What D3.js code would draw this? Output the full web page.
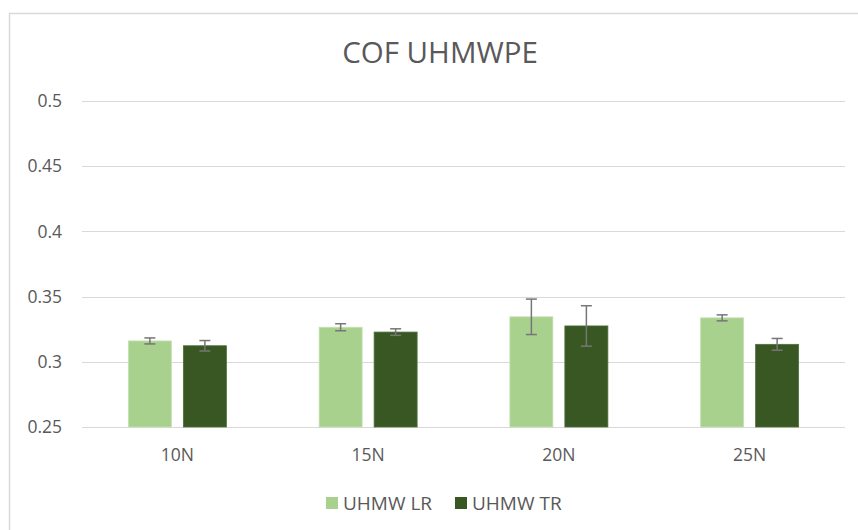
<!DOCTYPE html>
<html>
<head>
<meta charset="utf-8">
<script src="https://cdn.jsdelivr.net/npm/d3@7"></script>
<style>
  html, body { margin: 0; padding: 0; background: #fff; }
  svg text { font-family: "Open Sans", "Noto Sans", sans-serif; fill: #595959; }
</style>
</head>
<body>
<div id="chart"></div>
<script>
// --- dados ---
const categories = ["10N", "15N", "20N", "25N"];
const seriesNames = ["UHMW LR", "UHMW TR"];
const seriesColors = ["#a9d18e", "#385723"];
const lrValues = [0.316, 0.3265, 0.3345, 0.3337];
const trValues = [0.3123, 0.3228, 0.3275, 0.3134];
const lrErrors = [0.0023, 0.0027, 0.0136, 0.0023];
const trErrors = [0.004, 0.0025, 0.0155, 0.0045];
const yTicks = [0.25, 0.3, 0.35, 0.4, 0.45, 0.5];
const yTickLabels = ["0.25", "0.3", "0.35", "0.4", "0.45", "0.5"];

const width = 858, height = 530;
const plot = { left: 82, right: 845, top: 101, bottom: 427 };

const svg = d3.select("#chart").append("svg")
    .attr("width", width)
    .attr("height", height);

// borda do gráfico (cortada à direita e em baixo)
svg.append("path")
    .attr("d", `M9.5,${height}V13.5H${width}`)
    .attr("fill", "none")
    .attr("stroke", "#d9d9d9")
    .attr("stroke-width", 1.5);

const x = d3.scaleBand().domain(categories).range([plot.left, plot.right]);
const y = d3.scaleLinear().domain([0.25, 0.5]).range([plot.bottom, plot.top]);

const barW = 43, barGap = 12;
const groupW = barW * 2 + barGap;
// posição de cada série dentro do grupo
const xs = d3.scaleOrdinal().domain(seriesNames).range([0, barW + barGap]);

// grelha
svg.append("g")
    .selectAll("line")
    .data(yTicks)
    .join("line")
    .attr("x1", plot.left).attr("x2", plot.right)
    .attr("y1", d => Math.round(y(d)) + 0.5).attr("y2", d => Math.round(y(d)) + 0.5)
    .attr("stroke", "#d9d9d9").attr("stroke-width", 1);

// rótulos do eixo Y
svg.append("g")
    .selectAll("text")
    .data(yTicks)
    .join("text")
    .attr("x", 62)
    .attr("y", d => y(d))
    .attr("dy", "0.35em")
    .attr("text-anchor", "end")
    .style("font-size", "17.5px")
    .text((d, i) => yTickLabels[i]);

// rótulos do eixo X
svg.append("g")
    .selectAll("text")
    .data(categories)
    .join("text")
    .attr("x", d => x(d) + x.bandwidth() / 2)
    .attr("y", 461)
    .attr("text-anchor", "middle")
    .style("font-size", "17.5px")
    .text(d => d);

// barras
const rows = categories.map((c, i) => ({
    cat: c,
    vals: [
        { s: seriesNames[0], v: lrValues[i], e: lrErrors[i], color: seriesColors[0] },
        { s: seriesNames[1], v: trValues[i], e: trErrors[i], color: seriesColors[1] }
    ]
}));

const groupOffset = (x.bandwidth() - groupW) / 2;

const groups = svg.append("g")
    .selectAll("g")
    .data(rows)
    .join("g")
    .attr("transform", d => `translate(${x(d.cat) + groupOffset},0)`);

groups.selectAll("rect")
    .data(d => d.vals)
    .join("rect")
    .attr("x", d => xs(d.s))
    .attr("y", d => y(d.v))
    .attr("width", barW)
    .attr("height", d => y(0.25) - y(d.v))
    .attr("fill", d => d.color)
    .attr("stroke", (d, i) => i === 0 ? "#c5e0b4" : "#4f6f3a")
    .attr("stroke-width", 0.8);

// barras de erro
const capW = 11;
const cx = d => xs(d.s) + barW / 2;
const err = groups.selectAll("g.err")
    .data(d => d.vals)
    .join("g")
    .attr("class", "err")
    .attr("stroke", "#767676")
    .attr("stroke-width", 1.5);

err.append("line")
    .attr("x1", cx).attr("x2", cx)
    .attr("y1", d => y(d.v + d.e))
    .attr("y2", d => y(d.v - d.e));
err.append("line")
    .attr("x1", d => cx(d) - capW / 2)
    .attr("x2", d => cx(d) + capW / 2)
    .attr("y1", d => y(d.v + d.e))
    .attr("y2", d => y(d.v + d.e));
err.append("line")
    .attr("x1", d => cx(d) - capW / 2)
    .attr("x2", d => cx(d) + capW / 2)
    .attr("y1", d => y(d.v - d.e))
    .attr("y2", d => y(d.v - d.e));

// título
svg.append("text")
    .attr("x", 440)
    .attr("y", 63)
    .attr("text-anchor", "middle")
    .style("font-size", "29.5px")
    .text("COF UHMWPE");

// legenda
const legendX = [326, 455];
const legend = svg.append("g")
    .selectAll("g")
    .data(seriesNames)
    .join("g")
    .attr("transform", (d, i) => `translate(${legendX[i]},497)`);
legend.append("rect")
    .attr("width", 12).attr("height", 12)
    .attr("fill", (d, i) => seriesColors[i]);
legend.append("text")
    .attr("x", 17)
    .attr("y", 13)
    .style("font-size", "19px")
    .text(d => d);
</script>
</body>
</html>
